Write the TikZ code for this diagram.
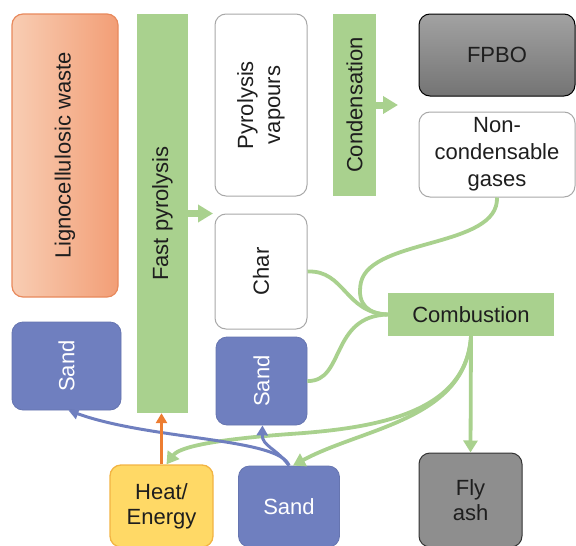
\documentclass[tikz,border=0pt]{standalone}
\usepackage{fontspec}
\setmainfont{Liberation Sans}
\usetikzlibrary{arrows.meta}

\definecolor{leaf}{HTML}{A9D18E}
\definecolor{sandblue}{HTML}{6F7FBF}
\definecolor{heatfill}{HTML}{FFD966}
\definecolor{heatedge}{HTML}{F2B443}
\definecolor{heatarrow}{HTML}{ED7D31}
\definecolor{wasteL}{HTML}{F8CDB3}
\definecolor{wasteR}{HTML}{F29E76}
\definecolor{wasteedge}{HTML}{E8895C}
\definecolor{edgegray}{HTML}{A8A8A8}
\definecolor{ink}{HTML}{1E1E1E}
\definecolor{oilTop}{HTML}{A2A2A2}
\definecolor{oilBot}{HTML}{747474}
\definecolor{ashfill}{HTML}{8E8E8E}

\tikzset{
  card/.style={rounded corners=11pt, inner sep=0pt, align=center, text=ink},
  plain/.style={card, draw=edgegray, line width=1pt, fill=white},
  sandbox/.style={card, fill=sandblue, draw=sandblue!92!black, line width=0.8pt, text=white},
  bar/.style={fill=leaf, inner sep=0pt},
  lbl/.style={inner sep=0pt, align=center, text=ink},
  vlbl/.style={lbl, rotate=90},
  flow/.style={draw=leaf, line width=3.8pt},
  flowtip/.style={flow, -{Triangle[width=14pt,length=12pt]}},
  stage/.style={draw=leaf, line width=7pt, -{Triangle[width=17pt,length=15pt]}},
  sandflow/.style={draw=sandblue, line width=3pt, -{Triangle[width=11pt,length=10pt]}},
  heatflow/.style={draw=heatarrow, line width=3pt, -{Triangle[width=11pt,length=10pt]}}
}

\begin{document}
\begin{tikzpicture}[x=1pt, y=-1pt, font=\fontsize{22}{26}\selectfont]
\useasboundingbox (0,0) rectangle (576,546);
\clip (0,0) rectangle (576,546);

% feedstock and process columns
\node[card, draw=wasteedge, line width=1.2pt, left color=wasteL, right color=wasteR,
      minimum width=106pt, minimum height=283pt] (waste) at (65,155.5) {};
\node[vlbl] (wasteText) at (waste.center) {Lignocellulosic waste};

\node[bar, minimum width=51pt, minimum height=399pt] (fp) at (162.5,213.5) {};
\node[vlbl] (fpText) at (fp.center) {Fast pyrolysis};

\node[plain, minimum width=92pt, minimum height=182pt] (vap) at (261,105) {};
\node[vlbl, font=\fontsize{22}{27}\selectfont] (vapText) at (vap.center) {Pyrolysis\\vapours};

\node[plain, minimum width=92pt, minimum height=115pt] (char) at (261,271.5) {};
\node[vlbl] (charText) at (char.center) {Char};

\node[bar, minimum width=43pt, minimum height=182pt] (cond) at (354.5,105) {};
\node[vlbl] (condText) at (cond.center) {Condensation};

% products
\node[card, draw=black, line width=1pt, top color=oilTop, bottom color=oilBot,
      minimum width=156pt, minimum height=82pt] (fpbo) at (497,55) {FPBO};
\node[plain, minimum width=156pt, minimum height=85pt, font=\fontsize{22}{27}\selectfont]
      (ncg) at (497,154.5) {Non-\\condensable\\gases};

\node[bar, minimum width=166pt, minimum height=43pt, text=ink] (comb) at (471,314.5) {Combustion};

% sand inventory
\node[sandbox, minimum width=109pt, minimum height=88pt] (sandl) at (66.5,366) {};
\node[vlbl, text=white] (sandlText) at (sandl.center) {Sand};

\node[sandbox, minimum width=91pt, minimum height=88pt] (sandm) at (261.5,381) {};
\node[vlbl, text=white] (sandmText) at (sandm.center) {Sand};

\node[sandbox, minimum width=101pt, minimum height=81pt] (sandb) at (289,506.5) {Sand};

\node[card, fill=heatfill, draw=heatedge, line width=1.3pt,
      minimum width=103pt, minimum height=82pt, font=\fontsize{22}{25}\selectfont]
      (heat) at (161.5,506) {Heat/\\Energy};

\node[card, fill=ashfill, draw=black!80, line width=1pt,
      minimum width=103pt, minimum height=94pt, font=\fontsize{22}{25}\selectfont]
      (ash) at (470.5,500) {Fly\\ash};

% stage arrows
\coordinate (fpTip) at (213,213.5);
\coordinate (condTip) at (398,105);
\draw[stage] (fp.east) -- (fpTip);
\draw[stage] (cond.east) -- (condTip);

% fuels routed to the combustor
\draw[flow] (char.east) .. controls (345,270) and (345,313) .. (comb.west);
\draw[flow] (ncg.south) .. controls (499,248) and (372,238) .. (361,282)
            .. controls (356,306) and (370,314) .. (comb.west);
\draw[flow] (sandm.east) .. controls (345,382) and (330,316) .. (comb.west);

% combustor outputs
\draw[flowtip] (comb.south) -- (ash.north);
\draw[flowtip] (comb.south) .. controls (466,412) and (380,428) .. (290,434)
               .. controls (222,439) and (180,446) .. ([xshift=5pt]heat.north);
\draw[flowtip] (comb.south) .. controls (466,420) and (362,428) .. ([xshift=4pt]sandb.north);

% sand recirculation
\draw[sandflow] (sandb.north) .. controls (280,438) and (150,440) .. ([xshift=2pt]sandl.south);
\draw[sandflow] (sandb.north) .. controls (276,448) and (262,446) .. ([xshift=1pt]sandm.south);

% heat supply to the reactor
\draw[heatflow] (heat.north) -- (heat.north |- fp.south);
\end{tikzpicture}
\end{document}
